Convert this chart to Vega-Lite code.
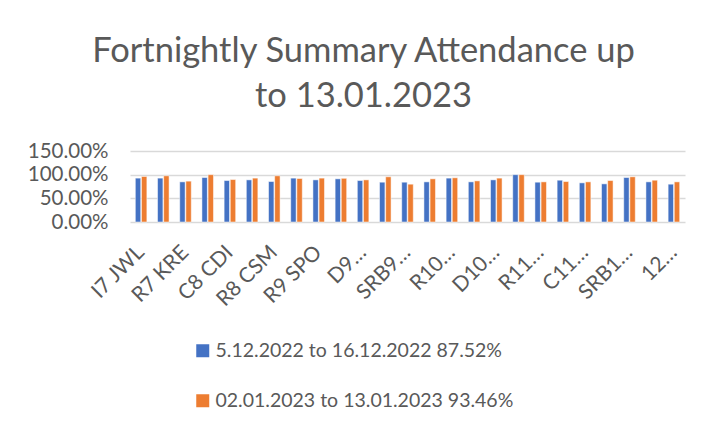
{
  "$schema": "https://vega.github.io/schema/vega-lite/v6.json",
  "width": 555,
  "height": 71,
  "autosize": {"type": "none"},
  "padding": {"left": 130, "top": 151, "right": 26, "bottom": 203},
  "background": "white",
  "title": {
    "text": ["Fortnightly Summary Attendance up", "to 13.01.2023"],
    "font": "Lato",
    "fontSize": 34.5,
    "fontWeight": "normal",
    "color": "#595959",
    "anchor": "middle",
    "dx": -44,
    "offset": 27,
    "lineHeight": 45
  },
  "config": {
    "view": {"stroke": null},
    "font": "Lato"
  },
  "data": {
    "values": [
      {"cls": "I7 JWL", "period": "5.12.2022 to 16.12.2022 87.52%", "value": 0.927},
      {"cls": "I7 JWL", "period": "02.01.2023 to 13.01.2023 93.46%", "value": 0.962},
      {"cls": "D7 MJO", "period": "5.12.2022 to 16.12.2022 87.52%", "value": 0.927},
      {"cls": "D7 MJO", "period": "02.01.2023 to 13.01.2023 93.46%", "value": 0.976},
      {"cls": "R7 KRE", "period": "5.12.2022 to 16.12.2022 87.52%", "value": 0.848},
      {"cls": "R7 KRE", "period": "02.01.2023 to 13.01.2023 93.46%", "value": 0.863},
      {"cls": "D8 AHA", "period": "5.12.2022 to 16.12.2022 87.52%", "value": 0.94},
      {"cls": "D8 AHA", "period": "02.01.2023 to 13.01.2023 93.46%", "value": 1.0},
      {"cls": "C8 CDI", "period": "5.12.2022 to 16.12.2022 87.52%", "value": 0.876},
      {"cls": "C8 CDI", "period": "02.01.2023 to 13.01.2023 93.46%", "value": 0.897},
      {"cls": "SRB8 LFO", "period": "5.12.2022 to 16.12.2022 87.52%", "value": 0.89},
      {"cls": "SRB8 LFO", "period": "02.01.2023 to 13.01.2023 93.46%", "value": 0.927},
      {"cls": "R8 CSM", "period": "5.12.2022 to 16.12.2022 87.52%", "value": 0.855},
      {"cls": "R8 CSM", "period": "02.01.2023 to 13.01.2023 93.46%", "value": 0.976},
      {"cls": "C9 KWA", "period": "5.12.2022 to 16.12.2022 87.52%", "value": 0.927},
      {"cls": "C9 KWA", "period": "02.01.2023 to 13.01.2023 93.46%", "value": 0.919},
      {"cls": "R9 SPO", "period": "5.12.2022 to 16.12.2022 87.52%", "value": 0.89},
      {"cls": "R9 SPO", "period": "02.01.2023 to 13.01.2023 93.46%", "value": 0.927},
      {"cls": "I9 NTH", "period": "5.12.2022 to 16.12.2022 87.52%", "value": 0.912},
      {"cls": "I9 NTH", "period": "02.01.2023 to 13.01.2023 93.46%", "value": 0.923},
      {"cls": "D9…", "period": "5.12.2022 to 16.12.2022 87.52%", "value": 0.876},
      {"cls": "D9…", "period": "02.01.2023 to 13.01.2023 93.46%", "value": 0.89},
      {"cls": "C9 PBR", "period": "5.12.2022 to 16.12.2022 87.52%", "value": 0.841},
      {"cls": "C9 PBR", "period": "02.01.2023 to 13.01.2023 93.46%", "value": 0.955},
      {"cls": "SRB9…", "period": "5.12.2022 to 16.12.2022 87.52%", "value": 0.841},
      {"cls": "SRB9…", "period": "02.01.2023 to 13.01.2023 93.46%", "value": 0.799},
      {"cls": "C10 EHU", "period": "5.12.2022 to 16.12.2022 87.52%", "value": 0.848},
      {"cls": "C10 EHU", "period": "02.01.2023 to 13.01.2023 93.46%", "value": 0.912},
      {"cls": "R10…", "period": "5.12.2022 to 16.12.2022 87.52%", "value": 0.927},
      {"cls": "R10…", "period": "02.01.2023 to 13.01.2023 93.46%", "value": 0.934},
      {"cls": "SRB10 GTA", "period": "5.12.2022 to 16.12.2022 87.52%", "value": 0.848},
      {"cls": "SRB10 GTA", "period": "02.01.2023 to 13.01.2023 93.46%", "value": 0.869},
      {"cls": "D10…", "period": "5.12.2022 to 16.12.2022 87.52%", "value": 0.89},
      {"cls": "D10…", "period": "02.01.2023 to 13.01.2023 93.46%", "value": 0.927},
      {"cls": "I10 BWI", "period": "5.12.2022 to 16.12.2022 87.52%", "value": 1.0},
      {"cls": "I10 BWI", "period": "02.01.2023 to 13.01.2023 93.46%", "value": 1.0},
      {"cls": "R11…", "period": "5.12.2022 to 16.12.2022 87.52%", "value": 0.841},
      {"cls": "R11…", "period": "02.01.2023 to 13.01.2023 93.46%", "value": 0.848},
      {"cls": "D11 HMO", "period": "5.12.2022 to 16.12.2022 87.52%", "value": 0.883},
      {"cls": "D11 HMO", "period": "02.01.2023 to 13.01.2023 93.46%", "value": 0.855},
      {"cls": "C11…", "period": "5.12.2022 to 16.12.2022 87.52%", "value": 0.827},
      {"cls": "C11…", "period": "02.01.2023 to 13.01.2023 93.46%", "value": 0.848},
      {"cls": "I11 RDA", "period": "5.12.2022 to 16.12.2022 87.52%", "value": 0.806},
      {"cls": "I11 RDA", "period": "02.01.2023 to 13.01.2023 93.46%", "value": 0.876},
      {"cls": "SRB1…", "period": "5.12.2022 to 16.12.2022 87.52%", "value": 0.94},
      {"cls": "SRB1…", "period": "02.01.2023 to 13.01.2023 93.46%", "value": 0.955},
      {"cls": "R12 TLE", "period": "5.12.2022 to 16.12.2022 87.52%", "value": 0.848},
      {"cls": "R12 TLE", "period": "02.01.2023 to 13.01.2023 93.46%", "value": 0.883},
      {"cls": "12…", "period": "5.12.2022 to 16.12.2022 87.52%", "value": 0.799},
      {"cls": "12…", "period": "02.01.2023 to 13.01.2023 93.46%", "value": 0.848}
    ]
  },
  "mark": {"type": "bar", "stroke": "white", "strokeWidth": 0.5},
  "encoding": {
    "x": {
      "field": "cls",
      "type": "nominal",
      "sort": null,
      "scale": {"paddingInner": 0.48, "paddingOuter": 0.24},
      "axis": {
        "title": null,
        "values": ["I7 JWL", "R7 KRE", "C8 CDI", "R8 CSM", "R9 SPO", "D9…", "SRB9…", "R10…", "D10…", "R11…", "C11…", "SRB1…", "12…"],
        "labelAngle": -45,
        "labelAlign": "right",
        "labelBaseline": "middle",
        "labelFontSize": 21,
        "labelColor": "#595959",
        "labelPadding": 27,
        "labelFont": "Lato",
        "labelLimit": 300,
        "labelOverlap": false,
        "ticks": false,
        "domain": false
      }
    },
    "xOffset": {"field": "period", "type": "nominal", "sort": null, "scale": {"paddingInner": 0.12}},
    "y": {
      "field": "value",
      "type": "quantitative",
      "scale": {"domain": [0, 1.5]},
      "axis": {
        "title": null,
        "values": [0, 0.5, 1, 1.5],
        "format": ".2%",
        "labelFontSize": 20.5,
        "labelColor": "#595959",
        "labelFont": "Lato",
        "labelPadding": 22,
        "labelOverlap": false,
        "ticks": false,
        "domain": false,
        "gridColor": "#d9d9d9",
        "gridWidth": 1.5
      }
    },
    "color": {
      "field": "period",
      "type": "nominal",
      "sort": null,
      "scale": {"range": ["#4472C4", "#ED7D31"]},
      "legend": {
        "title": null,
        "orient": "none",
        "legendX": 63,
        "legendY": 190,
        "direction": "vertical",
        "symbolType": "square",
        "symbolSize": 169,
        "symbolStrokeWidth": 0,
        "labelFontSize": 19.5,
        "labelFont": "Lato",
        "labelColor": "#595959",
        "labelLimit": 500,
        "rowPadding": 29,
        "labelOffset": 3
      }
    }
  }
}
